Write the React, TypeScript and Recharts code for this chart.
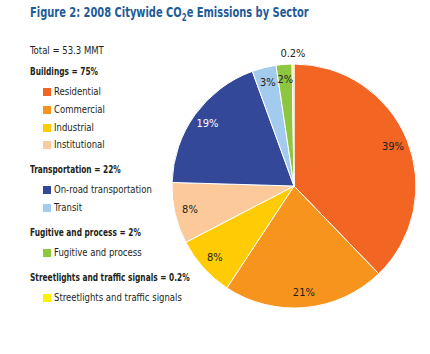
import { PieChart, Pie, Cell } from "recharts";

// Slices clockwise from 12 o'clock
const sectors = [
  "Residential",
  "Commercial",
  "Industrial",
  "Institutional",
  "On-road transportation",
  "Transit",
  "Fugitive and process",
  "Streetlights and traffic signals",
];
const shares = [37.8, 21.5, 8.1, 8.1, 19.0, 3.2, 2.1, 0.25];
const shareLabels = ["39%", "21%", "8%", "8%", "19%", "3%", "2%", "0.2%"];
const sectorColors = [
  "#F26522",
  "#F7941D",
  "#FFCB05",
  "#FBC99A",
  "#34489A",
  "#A3CBEE",
  "#8DC63F",
  "#FFF200",
];
const groups = [
  "Buildings = 75%",
  "Transportation = 22%",
  "Fugitive and process = 2%",
  "Streetlights and traffic signals = 0.2%",
];
const sectorGroup = [0, 0, 0, 0, 1, 1, 2, 3];

const data = sectors.map((name, i) => ({ name, value: shares[i], label: shareLabels[i] }));

const FONT = '"DejaVu Sans", sans-serif';
const TEXT = "#231f20";
const RADIAN = Math.PI / 180;

function SliceLabel(props: any) {
  const { cx, cy, midAngle, outerRadius, index } = props;
  const small = shares[index] < 1;
  const r = small ? outerRadius + 11 : outerRadius * 0.875;
  const x = cx + r * Math.cos(-midAngle * RADIAN);
  const y = cy + r * Math.sin(-midAngle * RADIAN);
  return (
    <text
      x={x}
      y={y}
      textAnchor="middle"
      dominantBaseline="central"
      fontSize={11}
      fontFamily={FONT}
      style={{ fontStretch: "condensed" }}
      fill={index === 4 ? "#ffffff" : TEXT}
    >
      {shareLabels[index]}
    </text>
  );
}

// one line of legend text, vertically centred on y
function Line({ x, y, bold, children }: any) {
  return (
    <div
      style={{
        position: "absolute",
        left: x,
        top: y - 8,
        height: 16,
        lineHeight: "16px",
        fontSize: 11,
        fontWeight: bold ? 700 : 400,
        transform: `scaleX(${bold ? 0.75 : 0.86})`,
        transformOrigin: "0 50%",
      }}
    >
      {children}
    </div>
  );
}

function LegendBlock() {
  const items: any[] = [];
  let y = 50.7;
  items.push(
    <Line key="total" x={30} y={y}>
      Total = 53.3 MMT
    </Line>
  );
  y += 21.3;
  groups.forEach((g, gi) => {
    if (gi > 0) y += 25;
    items.push(
      <Line key={"g" + gi} x={30} y={y} bold>
        {g}
      </Line>
    );
    y += 20;
    let first = true;
    sectors.forEach((s, i) => {
      if (sectorGroup[i] !== gi) return;
      if (!first) y += 17.8;
      first = false;
      items.push(
        <div
          key={"b" + i}
          style={{
            position: "absolute",
            left: 43,
            top: y - 4,
            width: 8,
            height: 8,
            background: sectorColors[i],
          }}
        />
      );
      items.push(
        <Line key={"s" + i} x={54} y={y}>
          {s}
        </Line>
      );
    });
  });
  return (
    <div
      style={{
        position: "absolute",
        left: 0,
        top: 0,
        fontFamily: FONT,
        fontStretch: "condensed",
        color: TEXT,
        whiteSpace: "nowrap",
      }}
    >
      {items}
    </div>
  );
}

export default function App() {
  return (
    <div style={{ position: "relative", width: 430, height: 354, background: "#fff" }}>
      <style>{"body{margin:0}"}</style>
      <div
        style={{
          position: "absolute",
          left: 30,
          top: 4,
          fontFamily: FONT,
          fontStretch: "condensed",
          fontWeight: 700,
          fontSize: 14,
          color: "#1F5C97",
          whiteSpace: "nowrap",
          transform: "scaleX(0.785)",
          transformOrigin: "0 50%",
        }}
      >
        Figure 2: 2008 Citywide CO<sub style={{ fontSize: 10 }}>2</sub>e Emissions by Sector
      </div>
      <div style={{ position: "absolute", left: 0, top: 0 }}>
        <PieChart width={430} height={354} margin={{ top: 0, right: 0, bottom: 0, left: 0 }}>
          <Pie
            data={data}
            dataKey="value"
            nameKey="name"
            cx={294}
            cy={186}
            outerRadius={122}
            startAngle={90}
            endAngle={-270}
            stroke="#ffffff"
            strokeWidth={1}
            label={SliceLabel}
            labelLine={false}
            isAnimationActive={false}
          >
            {data.map((d, i) => (
              <Cell key={d.name} fill={sectorColors[i]} />
            ))}
          </Pie>
        </PieChart>
      </div>
      <LegendBlock />
    </div>
  );
}
